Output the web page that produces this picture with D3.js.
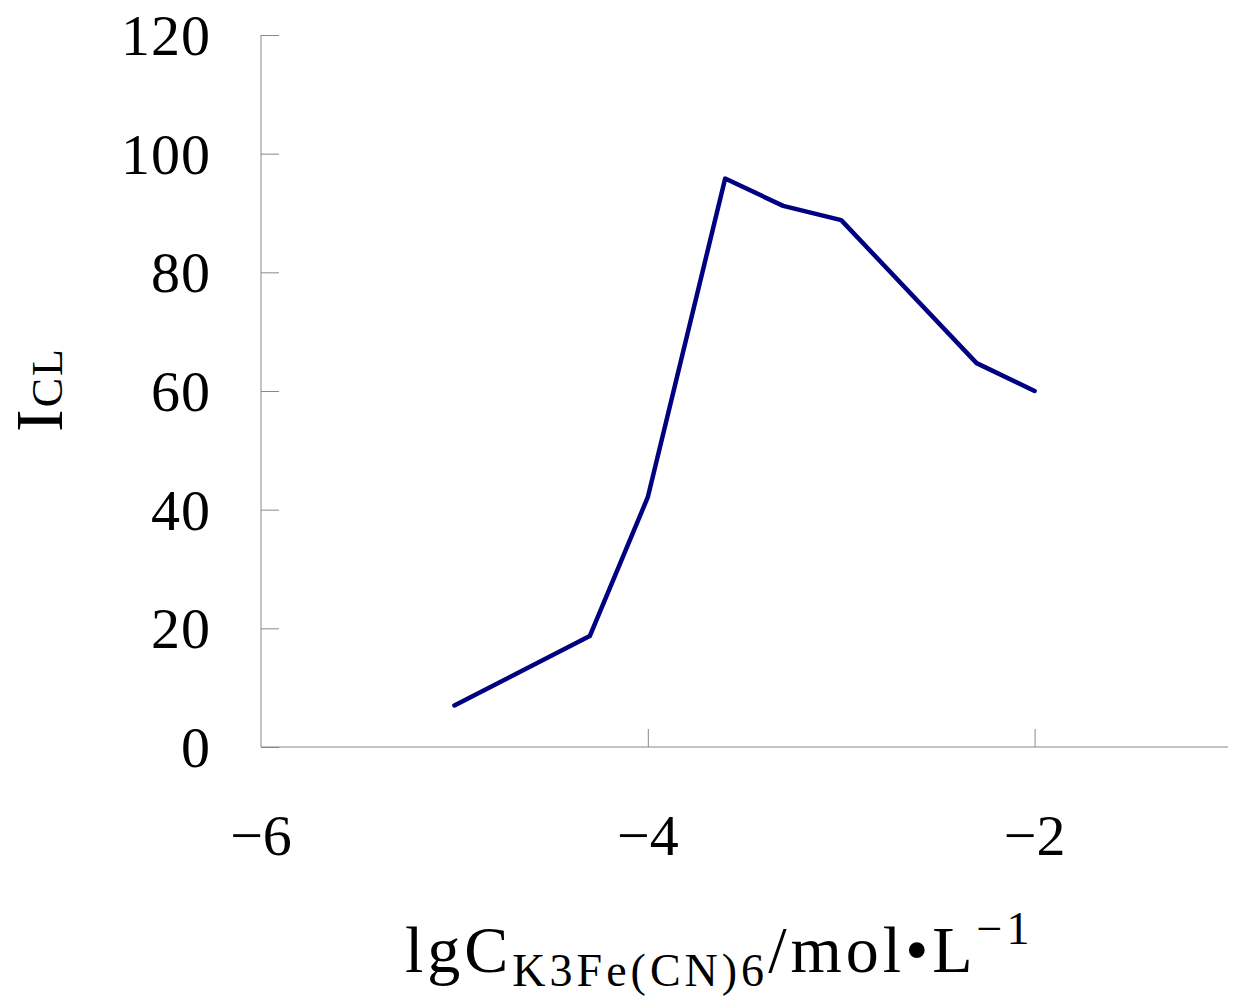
<!DOCTYPE html>
<html><head><meta charset="utf-8">
<script src="https://cdn.jsdelivr.net/npm/d3@7"></script>
<style>body{margin:0;background:#fff}</style>
</head><body>
<svg id="c" width="1242" height="1000"></svg>
<script>
const xVals = [-5, -4.3, -4, -3.6, -3.3, -3, -2.3, -2];
const yVals = [7, 18.7, 42.1, 95.8, 91.2, 88.8, 64.7, 60.0];
const xTicks = [-6, -4, -2];
const yTicks = [0, 20, 40, 60, 80, 100, 120];

const svg = d3.select("#c");
const font = "'Liberation Serif', 'DejaVu Serif', serif";
const x = d3.scaleLinear().domain([-6, -1]).range([261, 1228]);
const y = d3.scaleLinear().domain([0, 120]).range([747, 35]);
const axisColor = "#888";

// y axis
const ya = svg.append("g").attr("transform", "translate(261,0)")
  .call(d3.axisRight(y).tickValues(yTicks).tickSize(18).tickFormat(""));
ya.select(".domain").attr("stroke", axisColor).attr("d", `M0,${y(120)}V${y(0)}`);
ya.selectAll(".tick line").attr("stroke", axisColor);
svg.append("g").selectAll("text").data(yTicks).join("text")
  .attr("x", 211).attr("y", d => y(d) + 20)
  .attr("text-anchor", "end").attr("font-family", font).attr("font-size", 58)
  .attr("letter-spacing", 1)
  .attr("fill", "#000").text(d => d);

// x axis
const xa = svg.append("g").attr("transform", "translate(0,747)")
  .call(d3.axisTop(x).tickValues(xTicks.filter(d => d !== -6)).tickSize(18).tickFormat(""));
xa.select(".domain").attr("stroke", axisColor).attr("d", `M${x(-6)},0H${x(-1)}`);
xa.selectAll(".tick line").attr("stroke", axisColor);
svg.append("g").selectAll("text").data(xTicks).join("text")
  .attr("x", d => x(d)).attr("y", 855)
  .attr("text-anchor", "middle").attr("font-family", font).attr("font-size", 58)
  .attr("fill", "#000").text(d => "\u2212" + Math.abs(d));

// line
svg.append("path")
  .datum(xVals.map((v, i) => [v, yVals[i]]))
  .attr("fill", "none").attr("stroke", "#000080").attr("stroke-width", 4.5)
  .attr("stroke-linejoin", "round").attr("stroke-linecap", "round")
  .attr("d", d3.line().x(d => x(d[0])).y(d => y(d[1])));

// y title
const yt = svg.append("text").attr("transform", "translate(62,432) rotate(-90)")
  .attr("font-family", font).attr("fill", "#000").attr("letter-spacing", 2);
yt.append("tspan").attr("font-size", 68).text("I");
yt.append("tspan").attr("font-size", 44).text("CL");

// x title
const xt = svg.append("text").attr("x", 405).attr("y", 972)
  .attr("font-family", font).attr("fill", "#000").attr("letter-spacing", 4);
xt.append("tspan").attr("font-size", 66).text("lgC");
xt.append("tspan").attr("font-size", 46).attr("dy", 14).text("K3Fe(CN)6");
xt.append("tspan").attr("font-size", 66).attr("dy", -14).text("/mol\u2022L");
xt.append("tspan").attr("font-size", 46).attr("dy", -28).text("\u22121");
</script>
</body></html>
